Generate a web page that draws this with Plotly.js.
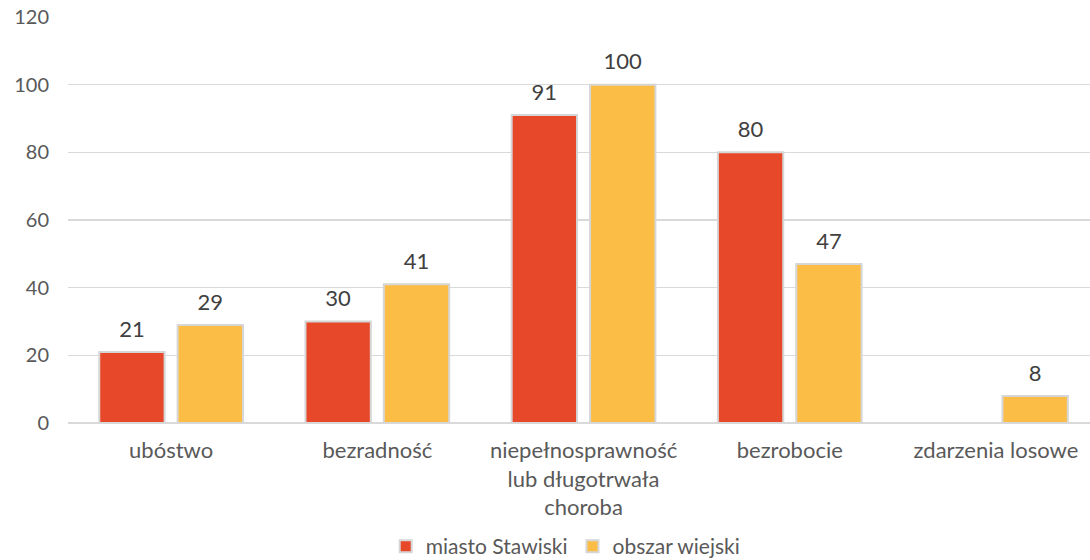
<!DOCTYPE html>
<html>
<head>
<meta charset="utf-8">
<script src="https://cdn.plot.ly/plotly-3.0.1.min.js"></script>
<style>html,body{margin:0;padding:0;background:#fff;}#chart{width:1090px;height:560px;}</style>
</head>
<body>
<div id="chart"></div>
<script>
var categories = ["ubóstwo", "bezradność", "niepełnosprawność<br>lub długotrwała<br>choroba", "bezrobocie", "zdarzenia losowe"];
var seriesNames = ["miasto Stawiski", "obszar wiejski"];
var miastoValues = [21, 30, 91, 80, null];
var wiejskiValues = [29, 41, 100, 47, 8];
var yTicks = [0, 20, 40, 60, 80, 100, 120];

var font = "Lato, 'Open Sans', sans-serif";
function labels(arr){ return arr.map(function(v){ return v === null ? "" : String(v); }); }

function barTrace(name, values, color, group){
  return {
    type: "bar", name: name, x: categories, y: values, offsetgroup: group,
    marker: {color: color, line: {color: "#D6D6D6", width: 2}},
    hoverinfo: "x+y"
  };
}
function labelTrace(name, values, group){
  return {
    type: "scatter", mode: "markers+text", name: name, x: categories, y: values,
    offsetgroup: group, showlegend: false, cliponaxis: false,
    text: labels(values), textposition: "top center",
    textfont: {family: font, size: 22, color: "#404040"},
    marker: {size: 14, opacity: 0}, hoverinfo: "skip"
  };
}

var traces = [
  barTrace(seriesNames[0], miastoValues, "#E8482A", "a"),
  barTrace(seriesNames[1], wiejskiValues, "#FBBD45", "b"),
  labelTrace(seriesNames[0], miastoValues, "a"),
  labelTrace(seriesNames[1], wiejskiValues, "b")
];

var layout = {
  width: 1090, height: 560,
  margin: {l: 68, r: 0, t: 17, b: 137, autoexpand: false},
  paper_bgcolor: "#fff", plot_bgcolor: "#fff",
  font: {family: font, size: 22, color: "#595959"},
  barmode: "group", bargap: 0.24, bargroupgap: 0.166,
  scattermode: "group", scattergap: 0.24,
  showlegend: true,
  legend: {orientation: "h", x: 0.487, xanchor: "center", yref: "paper", y: -0.254, yanchor: "top",
           font: {family: font, size: 21, color: "#595959"}, itemwidth: 30, tracegroupgap: 0},
  xaxis: {
    type: "category", range: [-0.5, 4.456], showgrid: false, zeroline: false, showline: false, automargin: false,
    ticks: "", tickfont: {family: font, size: 22, color: "#595959"}, ticklabelstandoff: 12
  },
  yaxis: {
    range: [0, 120], tickvals: yTicks, ticktext: yTicks.map(String), automargin: false,
    showgrid: true, gridcolor: "#D9D9D9", gridwidth: 1.3,
    zeroline: true, zerolinecolor: "#D9D9D9", zerolinewidth: 1.3,
    showline: false, ticks: "", ticklabelstandoff: 18,
    tickfont: {family: font, size: 20, color: "#595959"}
  }
};

Plotly.newPlot("chart", traces, layout, {displayModeBar: false, staticPlot: true});
</script>
</body>
</html>
